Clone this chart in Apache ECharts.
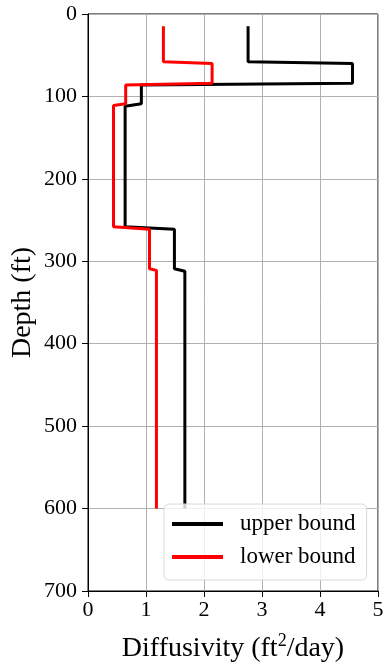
<!DOCTYPE html>
<html>
<head>
<meta charset="utf-8">
<script src="https://cdn.jsdelivr.net/npm/echarts@6/dist/echarts.min.js"></script>
<style>
  html, body { margin: 0; padding: 0; background: #fff; }
  #chart { width: 384px; height: 670px; }
</style>
</head>
<body>
<div id="chart"></div>
<script>
// Step profiles of diffusivity versus depth
const upperDepth = [15, 58, 60, 84, 86, 109, 112, 258, 261, 309, 312, 600];
const upperDiff  = [2.76, 2.76, 4.56, 4.56, 0.92, 0.92, 0.64, 0.64, 1.49, 1.49, 1.67, 1.67];
const lowerDepth = [15, 58, 60, 84, 86, 109, 111, 258, 261, 309, 311, 600];
const lowerDiff  = [1.30, 1.30, 2.14, 2.14, 0.65, 0.65, 0.44, 0.44, 1.06, 1.06, 1.18, 1.18];

const xTicks = [0, 1, 2, 3, 4, 5];
const yTicks = [0, 100, 200, 300, 400, 500, 600, 700];

const seriesNames = ['upper bound', 'lower bound'];

const pairs = (xs, ys) => xs.map((x, i) => [x, ys[i]]);

const FONT = '"Liberation Serif", "DejaVu Serif", serif';

const chart = echarts.init(document.getElementById('chart'), null, { renderer: 'canvas' });

chart.setOption({
  animation: false,
  backgroundColor: '#fff',
  grid: { left: 88, right: 6, top: 14, bottom: 79, containLabel: false,
          outerBoundsMode: 'none',
          show: true, borderColor: '#000', borderWidth: 1 },
  legend: {
    data: seriesNames,
    orient: 'vertical',
    left: 164,
    top: 504,
    icon: 'rect',
    itemWidth: 51,
    itemHeight: 4,
    itemGap: 9,
    padding: [8, 11, 11, 8],
    backgroundColor: 'rgba(255,255,255,0.8)',
    borderColor: '#d8d8d8',
    borderWidth: 1,
    borderRadius: 5,
    textStyle: { fontFamily: FONT, fontSize: 23, lineHeight: 24, color: '#000', padding: [0, 0, 0, 12] }
  },
  xAxis: {
    type: 'value',
    min: xTicks[0],
    max: xTicks[xTicks.length - 1],
    interval: 1,
    name: 'Diffusivity (ft{sup|2}/day)',
    nameLocation: 'middle',
    nameGap: 41,
    nameMoveOverlap: false,
    nameTextStyle: {
      fontFamily: FONT, fontSize: 28, color: '#000',
      rich: { sup: { fontFamily: FONT, fontSize: 18, color: '#000', verticalAlign: 'top', padding: [0, 0, 16, 0] } }
    },
    axisLine: { show: true, onZero: false, lineStyle: { color: '#000', width: 1 } },
    axisTick: { show: true, inside: false, length: 6, lineStyle: { color: '#000' } },
    axisLabel: { fontFamily: FONT, fontSize: 22, color: '#000', margin: 8 },
    splitLine: { show: true, lineStyle: { color: '#b0b0b0', width: 1 } }
  },
  yAxis: {
    type: 'value',
    inverse: true,
    min: yTicks[0],
    max: yTicks[yTicks.length - 1],
    interval: 100,
    name: 'Depth (ft)',
    nameLocation: 'middle',
    nameRotate: 90,
    nameGap: 51,
    nameMoveOverlap: false,
    nameTextStyle: { fontFamily: FONT, fontSize: 28, color: '#000' },
    axisLine: { show: true, onZero: false, lineStyle: { color: '#000', width: 1 } },
    axisTick: { show: true, inside: false, length: 6, lineStyle: { color: '#000' } },
    axisLabel: { fontFamily: FONT, fontSize: 22, color: '#000', margin: 11 },
    splitLine: { show: true, lineStyle: { color: '#b0b0b0', width: 1 } }
  },
  series: [
    {
      name: seriesNames[0],
      type: 'line',
      data: pairs(upperDiff, upperDepth),
      showSymbol: false,
      symbol: 'none',
      color: '#000',
      lineStyle: { color: '#000', width: 3 },
      z: 3
    },
    {
      name: seriesNames[1],
      type: 'line',
      data: pairs(lowerDiff, lowerDepth),
      showSymbol: false,
      symbol: 'none',
      color: '#ff0000',
      lineStyle: { color: '#ff0000', width: 3 },
      z: 4
    }
  ]
});
</script>
</body>
</html>
